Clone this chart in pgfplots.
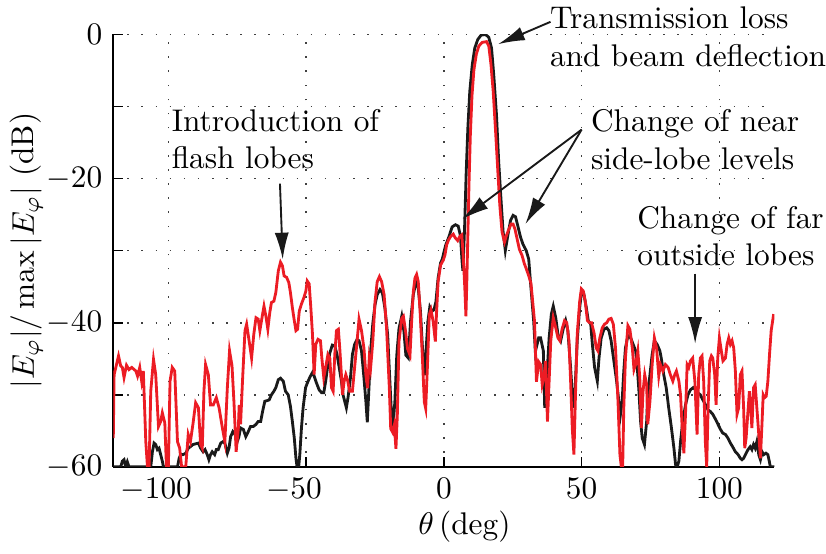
\documentclass[border=0pt]{standalone}
\usepackage{pgfplots}
\pgfplotsset{compat=1.18}
\usetikzlibrary{arrows.meta}
\definecolor{meas}{RGB}{236,28,36}
\definecolor{refc}{RGB}{26,26,26}

\begin{document}
\begin{tikzpicture}
\begin{axis}[
  scale only axis, width=211pt, height=138pt,
  xmin=-120, xmax=120, ymin=-60, ymax=0,
  axis lines=left, axis line style={-, line width=0.6pt},
  tick align=inside, major tick length=3pt, minor tick length=3pt,
  tick style={black, line width=0.5pt},
  xtick={-100,-50,0,50,100},
  xticklabels={\llap{$-$}100, \llap{$-$}50, 0, 50, 100},
  ytick={-60,-40,-20,0},
  minor ytick={-50,-30,-10},
  grid=both,
  major grid style={black!75, line width=0.5pt, dash pattern=on 0.5pt off 4pt},
  minor grid style={black!75, line width=0.5pt, dash pattern=on 0.5pt off 4pt},
  every axis x label/.style={at={(axis description cs:0.531,-0.139)}, anchor=center},
  every axis y label/.style={at={(axis description cs:-0.131,0.5)}, rotate=90, anchor=center},
  xlabel={$\theta\,$(deg)},
  ylabel={$|E_\varphi|/\max|E_\varphi|$ (dB)},
  clip mode=individual,
]

% page frame around the plot and its labels
\path (axis cs:-160.6,4.78) rectangle (axis cs:138.7,-71.8);

% reference pattern
\addplot[refc, line width=0.9pt] coordinates {
(-120,-60) (-117.3,-60) (-116.7,-59.2) (-116.1,-59.0) (-115.5,-60) (-114.9,-59.3) (-114.3,-60) (-106.4,-60)
(-105.8,-57.9) (-105.2,-56.7) (-104.6,-56.9) (-104.0,-57.6) (-103.4,-57.4) (-102.8,-58.3) (-102.2,-59.2) (-101.8,-60)
(-96.7,-60) (-96.1,-58.8) (-95.5,-58.3) (-94.7,-58.3) (-93.7,-58.1) (-92.8,-57.4) (-92.0,-57.2) (-91.1,-56.9)
(-90.1,-56.8) (-89.1,-56.7) (-88.3,-57.4) (-87.4,-57.9) (-86.7,-57.6) (-85.9,-58.3) (-85.3,-59.0) (-84.7,-58.3)
(-84.1,-57.9) (-83.2,-58.3) (-82.6,-57.6) (-81.9,-57.6) (-81.0,-56.7) (-80.2,-56.5) (-79.5,-56.7) (-78.6,-58.1)
(-78.0,-57.4) (-77.4,-55.8) (-76.6,-55.1) (-75.8,-55.5) (-75.0,-56.5) (-74.4,-55.8) (-73.8,-54.6) (-72.8,-54.8)
(-71.9,-55.8) (-71.0,-55.1) (-70.2,-54.4) (-69.2,-54.4) (-68.2,-54.1) (-67.4,-53.7) (-66.5,-53.7) (-65.8,-52.3)
(-65.0,-50.9) (-64.1,-50.8) (-63.4,-50.7) (-62.6,-50.0) (-61.7,-49.5) (-61.0,-49.0) (-60.1,-47.9) (-59.3,-47.7)
(-58.3,-48.1) (-57.5,-49.5) (-56.5,-50.0) (-55.7,-51.6) (-55.0,-53.7) (-54.3,-56.0) (-53.7,-58.8) (-53.3,-60)
(-52.7,-60) (-52.3,-58.3) (-51.7,-54.6) (-51.1,-51.8) (-50.2,-49.0) (-49.5,-48.3) (-48.7,-47.6) (-47.7,-46.9)
(-47.1,-47.4) (-46.3,-48.3) (-45.3,-49.3) (-44.4,-49.7) (-43.6,-49.7) (-42.9,-48.1) (-42.1,-45.8) (-41.4,-44.2)
(-40.5,-43.1) (-39.6,-43.2) (-38.8,-44.4) (-38.0,-46.2) (-37.2,-48.1) (-36.6,-50.0) (-36.0,-50.9) (-35.4,-51.8)
(-34.8,-50.4) (-33.9,-47.6) (-33.2,-44.4) (-32.4,-43.0) (-31.5,-42.3) (-30.8,-42.5) (-29.9,-43.9) (-29.0,-47.7)
(-28.3,-51.0) (-27.8,-53.8) (-27.2,-49.1) (-26.6,-44.0) (-25.8,-40.1) (-25.0,-37.5) (-24.2,-36.1) (-23.2,-35.4)
(-22.3,-35.9) (-21.4,-38.0) (-20.4,-41.7) (-19.6,-48.2) (-19.0,-52.8) (-18.4,-54.0) (-17.8,-51.0) (-17.1,-44.5)
(-16.3,-40.8) (-15.3,-39.1) (-14.5,-41.2) (-13.8,-44.5) (-12.9,-44.9) (-12.1,-39.8) (-11.1,-36.1) (-10.1,-34.3)
(-9.3,-35.2) (-8.5,-38.4) (-7.7,-44.0) (-7.1,-47.3) (-6.5,-44.0) (-5.8,-39.8) (-5.1,-37.8) (-4.3,-38.4)
(-3.6,-38.2) (-2.9,-37.1) (-2.1,-33.8) (-1.2,-31.7) (-0.6,-31.2) (0.6,-29.3) (1.8,-28.1) (3.0,-26.7)
(4.2,-26.4) (5.2,-26.6) (6.0,-27.9) (6.6,-31.5) (6.9,-32.8) (7.5,-27.0) (8.1,-19.1) (8.7,-13.0)
(9.4,-7.9) (10.3,-4.2) (11.2,-1.9) (12.3,-0.7) (13.5,-0.1) (15.1,0) (16.3,-0.4) (17.3,-1.9)
(18.1,-5.6) (19.1,-11.2) (19.9,-17.7) (20.8,-23.3) (21.5,-27.4) (22.3,-30.0) (23.2,-27.9) (24.2,-25.8)
(25.1,-25.1) (26.0,-25.3) (26.8,-26.5) (27.8,-28.1) (28.7,-29.1) (29.9,-30.0) (30.8,-31.2) (31.4,-34.2)
(32.6,-39.8) (33.2,-44.0) (34.4,-42.1) (35.1,-42.1) (36.1,-43.9) (36.6,-51.8) (37.3,-48.1) (38.2,-42.1)
(39.0,-38.8) (39.7,-37.7) (40.6,-39.3) (41.4,-41.6) (42.4,-42.5) (43.4,-40.7) (44.2,-39.7) (45.0,-41.1)
(46.0,-46.2) (46.9,-51.8) (47.6,-49.5) (48.4,-42.5) (49.3,-37.9) (50.0,-35.6) (50.8,-36.0) (51.7,-37.9)
(52.4,-39.7) (53.3,-40.2) (53.9,-43.0) (54.7,-46.2) (55.7,-48.1) (56.3,-44.9) (57.1,-42.1) (58.1,-40.9)
(59.1,-40.7) (59.9,-41.1) (60.7,-42.5) (61.7,-45.3) (62.7,-48.1) (63.5,-50.9) (64.1,-52.7) (64.7,-50.9)
(65.3,-46.7) (65.9,-43.5) (66.8,-41.8) (67.8,-42.1) (68.7,-43.0) (69.6,-43.9) (70.2,-46.2) (70.8,-49.5)
(71.4,-53.7) (72.0,-56.0) (72.8,-56.9) (73.6,-53.7) (74.0,-50.0) (74.8,-47.2) (75.6,-44.4) (76.4,-42.5)
(77.4,-43.0) (78.4,-43.9) (78.9,-44.9) (79.8,-47.2) (80.7,-49.0) (81.6,-51.8) (82.6,-54.6) (83.5,-57.4)
(84.1,-59.7) (84.7,-60) (85.3,-59.2) (85.9,-56.5) (86.7,-53.7) (87.7,-51.4) (88.6,-50.0) (89.5,-49.3)
(90.5,-49.0) (91.3,-49.3) (92.1,-49.7) (93.1,-50.0) (94.0,-50.7) (95.0,-51.4) (95.9,-52.1) (96.7,-52.3)
(97.6,-52.7) (98.6,-53.4) (99.5,-54.1) (100.4,-54.8) (101.2,-55.3) (102.2,-55.5) (103.1,-56.0) (104.0,-56.7)
(104.8,-57.2) (105.8,-57.9) (106.8,-58.3) (107.6,-58.8) (108.2,-59.0) (108.8,-58.8) (109.7,-58.1) (110.4,-57.6)
(111.2,-57.2) (111.8,-57.6) (112.4,-56.9) (113.0,-57.4) (113.6,-56.5) (114.3,-58.3) (114.9,-59.0) (115.5,-57.9)
(116.1,-58.3) (116.9,-58.1) (117.6,-58.3) (118.1,-59.2) (118.5,-60) (120,-60)
};

% pattern behind the radome
\addplot[meas, line width=0.9pt] coordinates {
(-120,-56) (-119.7,-47.2) (-118.1,-44.6) (-117.3,-46.0) (-116.7,-46.2) (-116.1,-47.6) (-115.2,-45.9) (-114.3,-46.5)
(-113.3,-46.2) (-111.8,-46.7) (-111.2,-47.4) (-110.4,-46.2) (-109.7,-48.1) (-109.1,-46.7) (-108.2,-56.5) (-107.6,-60)
(-107.0,-60) (-106.4,-49.5) (-105.4,-45.1) (-104.6,-47.2) (-103.6,-54.4) (-102.8,-53.7) (-102.2,-52.5) (-101.3,-53.9)
(-100.7,-60) (-100,-60) (-99.4,-48.1) (-98.6,-46.2) (-97.7,-46.7) (-96.7,-56.5) (-95.9,-57.4) (-95.2,-60)
(-93.7,-60) (-92.8,-55.5) (-92.0,-56.5) (-91.1,-54.1) (-90.1,-51.1) (-89.1,-51.8) (-88.3,-56.9) (-87.7,-57.4)
(-87.1,-49.5) (-86.5,-45.8) (-85.5,-47.2) (-84.7,-51.4) (-83.7,-51.4) (-82.6,-50.4) (-81.6,-51.8) (-80.4,-54.6)
(-79.5,-56.5) (-78.6,-49.0) (-77.8,-43.9) (-76.9,-46.0) (-76.2,-51.0) (-75.4,-57.9) (-74.6,-54.6) (-74.3,-51.4)
(-73.8,-54.1) (-73.1,-48.1) (-72.2,-41.1) (-71.6,-40.2) (-70.7,-42.5) (-69.8,-44.9) (-69.0,-41.6) (-68.2,-39.3)
(-67.4,-39.5) (-66.8,-41.1) (-65.8,-38.8) (-65.3,-37.7) (-64.6,-39.1) (-63.9,-40.9) (-63.2,-38.6) (-62.6,-37.2)
(-61.7,-37.0) (-61.0,-35.8) (-60.1,-32.8) (-59.3,-31.6) (-58.6,-32.1) (-58.0,-33.5) (-57.1,-33.7) (-56.3,-34.4)
(-55.7,-35.8) (-55.0,-37.9) (-54.3,-39.7) (-53.7,-41.1) (-53.1,-40.9) (-52.5,-38.4) (-51.7,-37.4) (-50.8,-36.5)
(-50.1,-35.6) (-49.6,-34.2) (-48.9,-34.6) (-48.3,-37.9) (-47.7,-41.6) (-47.1,-47.2) (-46.5,-43.0) (-45.7,-42.3)
(-44.8,-42.5) (-44.3,-44.9) (-43.6,-47.6) (-42.9,-46.2) (-42.1,-44.4) (-41.4,-44.9) (-40.8,-49.0) (-40.2,-49.5)
(-39.6,-44.4) (-39.0,-41.1) (-38.3,-40.9) (-37.8,-43.5) (-37.2,-47.2) (-36.8,-50.0) (-36.2,-48.1) (-35.6,-47.2)
(-35.0,-47.9) (-34.2,-49.5) (-33.2,-49.5) (-32.4,-46.2) (-31.5,-42.5) (-30.8,-39.5) (-29.9,-41.1) (-29.0,-43.6)
(-28.3,-47.3) (-27.7,-49.1) (-27.1,-45.0) (-26.6,-46.3) (-25.8,-42.6) (-25.0,-37.1) (-24.2,-34.3) (-23.4,-33.6)
(-22.6,-34.3) (-21.7,-36.1) (-20.8,-40.8) (-19.8,-49.1) (-19.3,-54.7) (-18.6,-55.2) (-18.0,-54.2) (-17.4,-57.5)
(-16.9,-52.8) (-16.3,-42.6) (-15.3,-39.4) (-14.7,-39.1) (-13.9,-41.2) (-13.2,-43.6) (-12.3,-44.5) (-11.7,-39.8)
(-11.1,-35.7) (-10.5,-33.8) (-9.9,-33.3) (-9.3,-34.3) (-8.7,-38.0) (-7.9,-44.0) (-7.1,-51.0) (-6.6,-51.9)
(-6.0,-46.3) (-5.3,-38.9) (-4.7,-38.2) (-3.9,-39.8) (-3.1,-42.6) (-2.7,-38.9) (-2.1,-34.3) (-1.2,-32.0)
(-0.2,-31.3) (0.4,-30.6) (1.0,-29.2) (1.7,-28.5) (2.5,-28.0) (3.4,-27.7) (4.1,-28.2) (5.0,-28.6)
(5.8,-28.0) (6.5,-27.8) (7.0,-30.6) (7.6,-35.2) (8.0,-39.1) (8.3,-34.7) (8.7,-27.8) (9.1,-21.0)
(9.6,-14.0) (10.2,-8.5) (10.9,-4.9) (11.8,-2.7) (12.7,-1.6) (13.9,-1.1) (15.5,-1.0) (16.3,-1.6)
(17.1,-4.2) (17.9,-7.9) (18.7,-13.0) (19.6,-19.1) (20.3,-23.7) (21.1,-27.4) (22.0,-28.8) (22.7,-27.9)
(23.6,-27.0) (24.4,-26.3) (25.1,-26.3) (25.8,-27.0) (26.6,-28.4) (27.4,-29.8) (28.4,-30.7) (29.2,-31.8)
(29.9,-32.5) (30.8,-33.5) (31.6,-34.5) (32.9,-39.8) (33.6,-48.2) (34.4,-45.4) (35.1,-45.8) (35.7,-48.6)
(36.3,-47.6) (36.9,-45.3) (37.6,-53.7) (38.2,-48.1) (38.8,-42.5) (39.7,-39.3) (40.6,-40.7) (41.4,-42.1)
(42.1,-42.5) (42.9,-40.9) (43.8,-39.7) (44.6,-40.0) (45.4,-42.5) (46.0,-48.1) (46.6,-54.6) (47.2,-58.3)
(47.8,-49.5) (48.4,-41.6) (49.3,-37.0) (49.9,-35.3) (50.6,-35.6) (51.3,-37.0) (52.1,-39.7) (52.9,-40.0)
(53.6,-40.0) (54.5,-41.4) (55.3,-43.5) (55.9,-43.9) (56.6,-42.1) (57.5,-40.7) (58.3,-40.2) (59.1,-40.0)
(59.9,-39.5) (60.7,-39.4) (61.5,-40.2) (62.3,-43.5) (63.2,-50.9) (63.9,-58.3) (64.4,-60) (64.9,-60)
(65.3,-51.8) (65.9,-44.9) (66.8,-40.4) (67.5,-40.9) (68.4,-43.5) (69.0,-46.5) (69.6,-45.8) (70.4,-43.9)
(71.1,-47.6) (71.7,-54.6) (72.3,-49.5) (72.9,-47.2) (73.6,-48.6) (74.0,-54.1) (74.8,-50.9) (75.6,-45.8)
(76.4,-42.1) (77.2,-43.5) (78.0,-47.4) (78.6,-45.8) (79.5,-46.7) (80.4,-45.8) (81.4,-46.2) (82.2,-47.2)
(83.1,-48.1) (83.8,-47.2) (84.4,-46.7) (85.3,-48.1) (85.9,-50.0) (86.5,-54.6) (87.1,-58.1) (87.7,-52.7)
(88.3,-45.8) (88.9,-46.2) (89.5,-45.3) (90.3,-44.9) (91.1,-48.1) (91.9,-55.5) (92.5,-47.2) (93.1,-44.9)
(93.7,-44.6) (94.3,-48.1) (94.9,-56.5) (95.4,-60) (95.9,-51.8) (96.5,-45.3) (97.1,-44.6) (97.6,-44.9)
(98.3,-47.2) (98.8,-51.4) (99.4,-44.9) (100.0,-42.1) (100.7,-43.9) (101.3,-45.3) (102.2,-44.9) (102.8,-43.0)
(103.4,-42.1) (104.0,-43.0) (104.6,-42.5) (105.2,-43.5) (105.8,-46.7) (106.4,-52.7) (107.0,-51.8) (107.6,-47.2)
(108.2,-46.7) (108.8,-51.8) (109.2,-57.4) (109.7,-56.0) (110.3,-52.7) (110.9,-49.5) (111.3,-51.4) (111.8,-54.6)
(112.4,-49.0) (113.0,-48.6) (113.6,-51.8) (114.3,-55.5) (114.9,-58.8) (115.5,-53.7) (115.9,-50.0) (116.4,-50.4)
(117.0,-50.2) (117.6,-48.1) (118.2,-44.4) (118.8,-41.1) (119.7,-38.8)
};

% annotations
\tikzset{note/.style={anchor=west, align=left, inner sep=0pt},
         pointer/.style={-{Latex[length=8.5pt,width=4.5pt]}, line width=0.6pt, black!90}}
\node[note] at (axis cs:38.3,-0.3) {Transmission loss\\and beam deflection};
\draw[pointer] (axis cs:38.7,1.75) -- (axis cs:19.7,-1.35);

\node[note] at (axis cs:53.2,-14.6) {Change of near\\side-lobe levels};
\draw[pointer] (axis cs:50,-13.2) -- (axis cs:6.7,-25.6);
\draw[pointer] (axis cs:50,-13.2) -- (axis cs:29.6,-26.3);

\node[note] at (axis cs:-99,-14.5) {Introduction of\\flash lobes};
\draw[pointer] (axis cs:-59.5,-20.7) -- (axis cs:-58.5,-31.2);

\node[note] at (axis cs:70.0,-28.0) {Change of far\\outside lobes};
\draw[pointer] (axis cs:91.2,-33.2) -- (axis cs:91.2,-42.9);

\end{axis}
\end{tikzpicture}
\end{document}
